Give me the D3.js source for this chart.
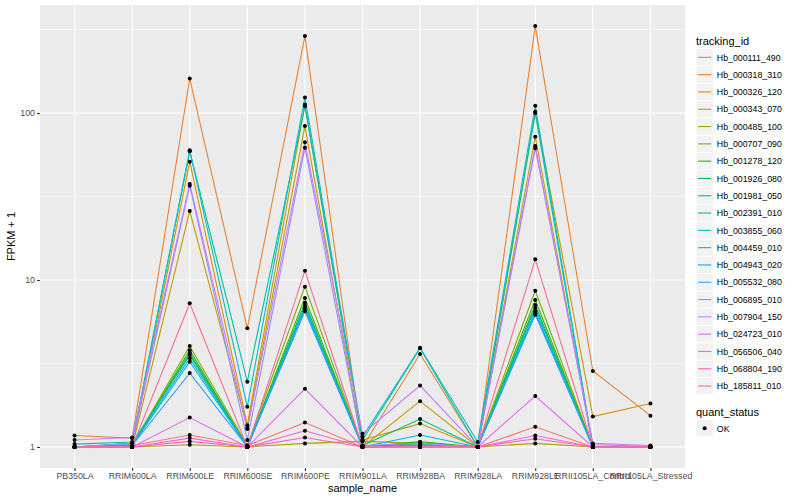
<!DOCTYPE html>
<html>
<head>
<meta charset="utf-8">
<script src="https://cdn.jsdelivr.net/npm/d3@7"></script>
<style>
  body { margin: 0; background: #fff; }
  svg { font-family: "Liberation Sans", Arial, sans-serif; }
</style>
</head>
<body>
<svg id="chart" width="800" height="500"></svg>
<script>
// sample order on the x axis
const samples = ["PB350LA", "RRIM600LA", "RRIM600LE", "RRIM600SE", "RRIM600PE", "RRIM901LA",
  "RRIM928BA", "RRIM928LA", "RRIM928LE", "RRII105LA_Control", "RRII105LA_Stressed"];

const trackingIds = ["Hb_000111_490", "Hb_000318_310", "Hb_000326_120", "Hb_000343_070",
  "Hb_000485_100", "Hb_000707_090", "Hb_001278_120", "Hb_001926_080", "Hb_001981_050",
  "Hb_002391_010", "Hb_003855_060", "Hb_004459_010", "Hb_004943_020", "Hb_005532_080",
  "Hb_006895_010", "Hb_007904_150", "Hb_024723_010", "Hb_056506_040", "Hb_068804_190",
  "Hb_185811_010"];

// FPKM + 1, one row per tracking id, columns follow samples
const fpkmPlusOne = [
  [1.0, 1.02, 1.18, 1.02, 1.40, 1.0, 1.02, 1.0, 1.32, 1.0, 1.0],
  [1.17, 1.13, 161, 5.14, 289, 1.0, 3.6, 1.0, 332, 2.85, 1.54],
  [1.0, 1.0, 51.1, 1.35, 112.7, 1.1, 1.38, 1.0, 101.8, 1.52, 1.82],
  [1.0, 1.0, 25.9, 1.30, 83.6, 1.0, 1.88, 1.0, 72.1, 1.0, 1.0],
  [1.0, 1.0, 1.03, 1.0, 1.05, 1.08, 1.05, 1.0, 1.05, 1.0, 1.0],
  [1.0, 1.02, 4.02, 1.02, 9.12, 1.0, 1.05, 1.0, 8.63, 1.0, 1.0],
  [1.0, 1.02, 3.8, 1.0, 7.8, 1.0, 1.076, 1.0, 7.59, 1.0, 1.0],
  [1.0, 1.03, 3.65, 1.0, 7.31, 1.0, 1.05, 1.0, 7.08, 1.0, 1.0],
  [1.0, 1.05, 3.55, 1.0, 7.0, 1.02, 1.47, 1.0, 6.8, 1.0, 1.0],
  [1.04, 1.07, 59, 2.46, 110, 1.1, 3.9, 1.0, 100, 1.0, 1.0],
  [1.0, 1.05, 59.8, 1.74, 124, 1.15, 3.93, 1.07, 110.6, 1.0, 1.0],
  [1.0, 1.02, 3.24, 1.0, 6.61, 1.0, 1.03, 1.0, 6.5, 1.0, 1.0],
  [1.0, 1.02, 3.4, 1.0, 6.8, 1.0, 1.18, 1.0, 6.3, 1.0, 1.0],
  [1.0, 1.02, 2.77, 1.0, 6.5, 1.0, 1.02, 1.0, 6.2, 1.0, 1.0],
  [1.0, 1.05, 36.7, 1.10, 62, 1.02, 1.05, 1.0, 63.4, 1.03, 1.01],
  [1.1, 1.14, 37.6, 1.28, 66.8, 1.2, 2.33, 1.0, 61.5, 1.05, 1.02],
  [1.0, 1.0, 1.50, 1.0, 2.23, 1.0, 1.0, 1.0, 2.02, 1.0, 1.0],
  [1.0, 1.0, 1.13, 1.0, 1.25, 1.0, 1.0, 1.0, 1.17, 1.0, 1.0],
  [1.0, 1.0, 1.08, 1.0, 1.14, 1.0, 1.0, 1.0, 1.12, 1.0, 1.0],
  [1.0, 1.0, 7.25, 1.0, 11.37, 1.0, 1.0, 1.0, 13.3, 1.0, 1.0]
];

const yTicks = [1, 10, 100];
const statusLevels = ["OK"];

// ggplot default hue palette for 20 levels
const palette = ["#F8766D", "#EA8331", "#D89000", "#C09B00", "#A3A500", "#7CAE00", "#39B600",
  "#00BB4E", "#00BF7D", "#00C1A3", "#00BFC4", "#00BAE0", "#00B0F6", "#35A2FF", "#9590FF",
  "#C77CFF", "#E76BF3", "#FA62DB", "#FF62BC", "#FF6C91"];

const panel = { left: 40, right: 685, top: 5, bottom: 468 };
const svg = d3.select("#chart");

const series = trackingIds.map((id, i) => ({
  id,
  points: samples.map((s, j) => ({ sample: s, value: fpkmPlusOne[i][j] }))
}));

// discrete x with 0.6 unit padding like ggplot
const x = d3.scalePoint()
  .domain(samples)
  .range([panel.left, panel.right])
  .padding(0.6);

const allVals = fpkmPlusOne.flat();
const lo = Math.log10(d3.min(allVals)), hi = Math.log10(d3.max(allVals));
const pad = (hi - lo) * 0.05;
const y = d3.scaleLog()
  .domain([Math.pow(10, lo - pad), Math.pow(10, hi + pad)])
  .range([panel.bottom, panel.top]);

const color = d3.scaleOrdinal().domain(trackingIds).range(palette);

// panel background
svg.append("rect")
  .attr("x", panel.left).attr("y", panel.top)
  .attr("width", panel.right - panel.left)
  .attr("height", panel.bottom - panel.top)
  .attr("fill", "#EBEBEB");

// minor gridlines halfway between decades
const minor = [0.5, 1.5, 2.5].map(e => Math.pow(10, e));
svg.append("g").selectAll("line")
  .data(minor)
  .enter().append("line")
  .attr("x1", panel.left).attr("x2", panel.right)
  .attr("y1", d => y(d)).attr("y2", d => y(d))
  .attr("stroke", "#fff").attr("stroke-width", 0.55);

svg.append("g").selectAll("line")
  .data(yTicks)
  .enter().append("line")
  .attr("x1", panel.left).attr("x2", panel.right)
  .attr("y1", d => y(d)).attr("y2", d => y(d))
  .attr("stroke", "#fff").attr("stroke-width", 1.1);

svg.append("g").selectAll("line")
  .data(samples)
  .enter().append("line")
  .attr("x1", d => x(d)).attr("x2", d => x(d))
  .attr("y1", panel.top).attr("y2", panel.bottom)
  .attr("stroke", "#fff").attr("stroke-width", 1.1);

// lines
const line = d3.line()
  .x(d => x(d.sample))
  .y(d => y(d.value));

svg.append("g").selectAll("path")
  .data(series)
  .enter().append("path")
  .attr("d", d => line(d.points))
  .attr("fill", "none")
  .attr("stroke", d => color(d.id))
  .attr("stroke-width", 1.1);

// points
svg.append("g").selectAll("circle")
  .data(series.flatMap(s => s.points))
  .enter().append("circle")
  .attr("cx", d => x(d.sample))
  .attr("cy", d => y(d.value))
  .attr("r", 2)
  .attr("fill", "#000");

// axes
const xAxis = d3.axisBottom(x).tickSize(3).tickPadding(2);
const gx = svg.append("g")
  .attr("transform", `translate(0,${panel.bottom})`)
  .call(xAxis);
gx.select(".domain").remove();
gx.selectAll(".tick line").attr("stroke", "#333").attr("stroke-width", 1.1);
gx.selectAll(".tick text").attr("fill", "#4D4D4D").style("font-size", "8.8px")
  .attr("font-family", "Liberation Sans, Arial, sans-serif");

const yAxis = d3.axisLeft(y).tickValues(yTicks).tickFormat(d3.format("d")).tickSize(3).tickPadding(2);
const gy = svg.append("g")
  .attr("transform", `translate(${panel.left},0)`)
  .call(yAxis);
gy.select(".domain").remove();
gy.selectAll(".tick line").attr("stroke", "#333").attr("stroke-width", 1.1);
gy.selectAll(".tick text").attr("fill", "#4D4D4D").style("font-size", "8.8px")
  .attr("font-family", "Liberation Sans, Arial, sans-serif");

// axis titles
svg.append("text")
  .attr("x", (panel.left + panel.right) / 2).attr("y", 492)
  .attr("text-anchor", "middle")
  .style("font-size", "11px")
  .text("sample_name");

svg.append("text")
  .attr("transform", `translate(15,${(panel.top + panel.bottom) / 2}) rotate(-90)`)
  .attr("text-anchor", "middle")
  .style("font-size", "11px")
  .text("FPKM + 1");

// legend: tracking_id
const legend = svg.append("g").attr("transform", "translate(696,0)");
legend.append("text")
  .attr("x", 0).attr("y", 44.5)
  .style("font-size", "11px")
  .text("tracking_id");

const keySize = 17.3;
const keys = legend.selectAll("g.key")
  .data(trackingIds)
  .enter().append("g")
  .attr("class", "key")
  .attr("transform", (d, i) => `translate(0,${48.7 + i * keySize})`);
keys.append("rect")
  .attr("x", 0.5).attr("y", 0.5)
  .attr("width", keySize - 1).attr("height", keySize - 1)
  .attr("fill", "#F2F2F2");
keys.append("line")
  .attr("x1", 2).attr("x2", keySize - 2)
  .attr("y1", keySize / 2).attr("y2", keySize / 2)
  .attr("stroke", d => color(d)).attr("stroke-width", 1.1);
keys.append("text")
  .attr("x", keySize + 3.5).attr("y", keySize / 2 + 3.2)
  .style("font-size", "8.8px")
  .text(d => d);

// legend: quant_status
legend.append("text")
  .attr("x", 0).attr("y", 416.2)
  .style("font-size", "11px")
  .text("quant_status");

const sKeys = legend.selectAll("g.skey")
  .data(statusLevels)
  .enter().append("g")
  .attr("class", "skey")
  .attr("transform", (d, i) => `translate(0,${419.7 + i * keySize})`);
sKeys.append("rect")
  .attr("x", 0.5).attr("y", 0.5)
  .attr("width", keySize - 1).attr("height", keySize - 1)
  .attr("fill", "#F2F2F2");
sKeys.append("circle")
  .attr("cx", keySize / 2).attr("cy", keySize / 2)
  .attr("r", 2).attr("fill", "#000");
sKeys.append("text")
  .attr("x", keySize + 3.5).attr("y", keySize / 2 + 3.2)
  .style("font-size", "8.8px")
  .text(d => d);
</script>
</body>
</html>
